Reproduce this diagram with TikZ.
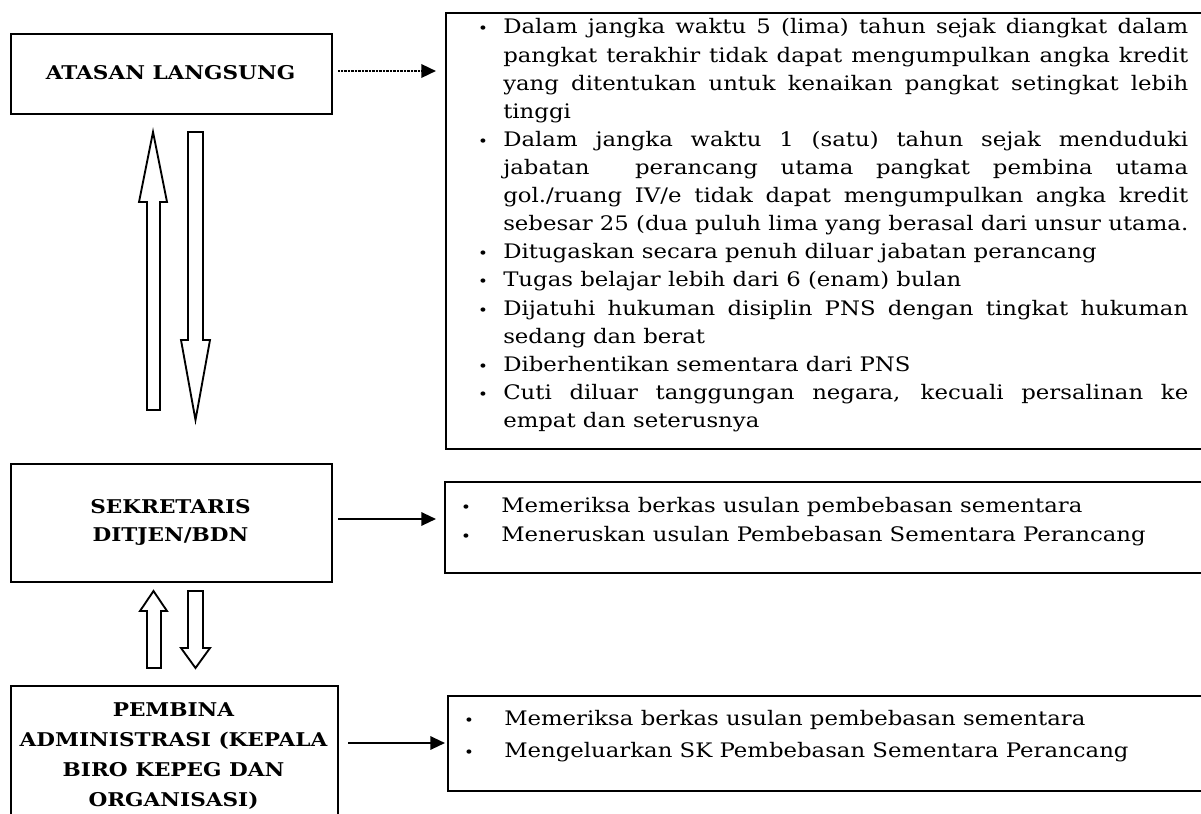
\documentclass[tikz,border=0pt]{standalone}
\usepackage{fontspec}
\setmainfont{DejaVu Serif}[FakeStretch=1.14]
\usetikzlibrary{arrows.meta}
\newcommand\bodyfont{\fontsize{15}{21}\selectfont}
\newcommand\headfont{\fontsize{14.2}{21}\selectfont\bfseries}
\newcommand\JL[1]{\makebox[513.75pt][s]{#1}}
\newcommand\bul{\fontsize{11}{11}\selectfont\textbullet}
\tikzset{
  box/.style={draw, line width=1.5pt, anchor=north west, inner sep=0pt},
  arr/.style={line width=1.6pt, -{Triangle[length=11pt,width=10pt]}},
  dotarr/.style={line width=1.8pt, dash pattern=on 0.6pt off 0.45pt, -{Triangle[length=11pt,width=10pt,sep=0pt]}},
  blk/.style={draw, line width=1.4pt, fill=white, line join=miter},
  bodyt/.style={anchor=base west, inner sep=0pt, font=\bodyfont},
  bult/.style={anchor=base, inner sep=0pt},
  head/.style={align=center, font=\headfont, inner sep=0pt}
}
\begin{document}
\begin{tikzpicture}[x=0.75pt,y=-0.75pt]
\useasboundingbox (0,0) rectangle (1201,813);
\clip (0,0) rectangle (1201,813);
\fill[white] (0,0) rectangle (1201,813);

% boxes
\node[box, minimum width=240.75pt, minimum height=60pt] (atasan) at (10,33) {};
\node[box, minimum width=577.5pt, minimum height=327pt] (syarat) at (445,12) {};
\node[box, minimum width=240.75pt, minimum height=88.5pt] (sekr) at (10,463) {};
\node[box, minimum width=578.25pt, minimum height=68.25pt] (tugas2) at (444,481) {};
\node[box, minimum width=245.25pt, minimum height=108.75pt] (pemb) at (10,685) {};
\node[box, minimum width=576pt, minimum height=71.25pt] (tugas3) at (447,695) {};

% header texts
\node[head] (tatasan) at (170.5,73) {ATASAN LANGSUNG};
\node[head] (tsekr) at (170.5,522) {SEKRETARIS\\DITJEN/BDN};
\node[head, font=\fontsize{14.2}{22.5}\selectfont\bfseries] (tpemb) at (173.5,756) {PEMBINA\\ADMINISTRASI (KEPALA\\BIRO KEPEG DAN\\ORGANISASI)};

% connectors
\draw[dotarr, shorten <=3.75pt, shorten >=6.75pt] (atasan.east |- 0,71) coordinate (a1) -- (syarat.west |- a1);
\draw[arr, shorten <=3.75pt, shorten >=6pt] (sekr.east |- 0,519) coordinate (a2) -- (tugas2.west |- a2);
\draw[arr, shorten <=6.75pt, shorten >=1.5pt] (pemb.east |- 0,743) coordinate (a3) -- (tugas3.west |- a3);

% block arrows between ATASAN and SEKRETARIS
\draw[blk] (153,132) -- (167,202) -- (160,202) -- (160,410) -- (147,410) -- (147,202) -- (139,202) -- cycle;
\draw[blk] (188,132) -- (203,132) -- (203,340) -- (210,340) -- (195.5,420) -- (181,340) -- (188,340) -- cycle;
% block arrows between SEKRETARIS and PEMBINA
\draw[blk] (153.5,591) -- (167,611) -- (161,611) -- (161,668) -- (147,668) -- (147,611) -- (140,611) -- cycle;
\draw[blk] (188,591) -- (203,591) -- (203,648) -- (210,648) -- (195.5,668) -- (181,648) -- (188,648) -- cycle;

% big box text
\node[bult] (b1) at (483,34) {\bul};
\node[bodyt] (l1) at (503,34) {\JL{Dalam jangka waktu 5 (lima) tahun sejak diangkat dalam}};
\node[bodyt] (l2) at (503,62.1) {\JL{pangkat terakhir tidak dapat mengumpulkan angka kredit}};
\node[bodyt] (l3) at (503,90.2) {\JL{yang ditentukan untuk kenaikan pangkat setingkat lebih}};
\node[bodyt] (l4) at (503,118.3) {tinggi};
\node[bult] (b2) at (483,146.4) {\bul};
\node[bodyt] (l5) at (503,146.4) {\JL{Dalam jangka waktu 1 (satu) tahun sejak menduduki}};
\node[bodyt] (l6) at (503,174.5) {\JL{jabatan \ perancang utama pangkat pembina utama}};
\node[bodyt] (l7) at (503,202.6) {\JL{gol./ruang IV/e tidak dapat mengumpulkan angka kredit}};
\node[bodyt] (l8) at (503,230.7) {sebesar 25 (dua puluh lima yang berasal dari unsur utama.};
\node[bult] (b3) at (483,258.8) {\bul};
\node[bodyt] (l9) at (503,258.8) {Ditugaskan secara penuh diluar jabatan perancang};
\node[bult] (b4) at (483,286.9) {\bul};
\node[bodyt] (l10) at (503,286.9) {Tugas belajar lebih dari 6 (enam) bulan};
\node[bult] (b5) at (483,315) {\bul};
\node[bodyt] (l11) at (503,315) {\JL{Dijatuhi hukuman disiplin PNS dengan tingkat hukuman}};
\node[bodyt] (l12) at (503,343.1) {sedang dan berat};
\node[bult] (b6) at (483,371.2) {\bul};
\node[bodyt] (l13) at (503,371.2) {Diberhentikan sementara dari PNS};
\node[bult] (b7) at (483,399.3) {\bul};
\node[bodyt] (l14) at (503,399.3) {\JL{Cuti diluar tanggungan negara, kecuali persalinan ke}};
\node[bodyt] (l15) at (503,427.4) {empat dan seterusnya};

% box 2 text
\node[bult] (c1) at (466,512) {\bul};
\node[bodyt] (m1) at (501,512) {Memeriksa berkas usulan pembebasan sementara};
\node[bult] (c2) at (466,541) {\bul};
\node[bodyt] (m2) at (501,541) {Meneruskan usulan Pembebasan Sementara Perancang};

% box 3 text
\node[bult] (d1) at (469,725) {\bul};
\node[bodyt] (n1) at (504,725) {Memeriksa berkas usulan pembebasan sementara};
\node[bult] (d2) at (469,757) {\bul};
\node[bodyt] (n2) at (504,757) {Mengeluarkan SK Pembebasan Sementara Perancang};
\end{tikzpicture}
\end{document}
